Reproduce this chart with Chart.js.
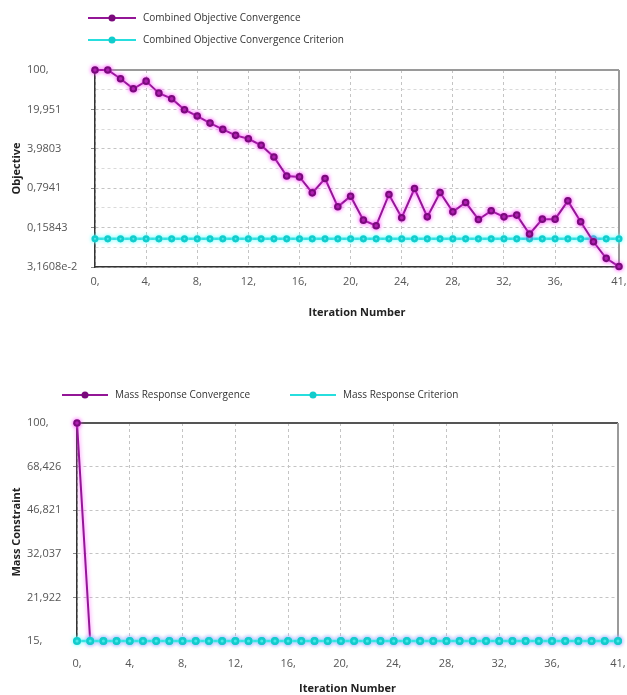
<!DOCTYPE html>
<html>
<head>
<meta charset="utf-8">
<script src="https://cdn.jsdelivr.net/npm/chart.js@4.4.1/dist/chart.umd.min.js"></script>
<style>
  html, body { margin: 0; padding: 0; background: #fff; }
  #wrap { position: relative; width: 627px; height: 695px; }
  canvas { position: absolute; left: 0; }
  #objChart { top: 0; }
  #massChart { top: 340px; }
</style>
</head>
<body>
<div id="wrap">
  <canvas id="objChart" width="627" height="340"></canvas>
  <canvas id="massChart" width="627" height="355"></canvas>
</div>
<script>
// Iterations shared by both charts
const iterations = [0, 1, 2, 3, 4, 5, 6, 7, 8, 9, 10, 11, 12, 13, 14, 15, 16, 17, 18, 19, 20,
    21, 22, 23, 24, 25, 26, 27, 28, 29, 30, 31, 32, 33, 34, 35, 36, 37, 38, 39, 40, 41];
const xTickValues = [0, 4, 8, 12, 16, 20, 24, 28, 32, 36, 41];

// Top chart: combined objective (log axis)
const objectiveValues = [100, 100, 70, 46.4, 63.4, 38.8, 30.9, 19.7, 15.2, 11.4, 8.8, 6.9, 6.0, 4.6,
    2.85, 1.31, 1.26, 0.656, 1.18, 0.371, 0.573, 0.215, 0.171, 0.614, 0.237, 0.785, 0.246, 0.667,
    0.302, 0.443, 0.221, 0.315, 0.246, 0.264, 0.122, 0.224, 0.224, 0.473, 0.201, 0.0887, 0.045, 0.0322];
const objectiveCriterion = [0.1, 0.1, 0.1, 0.1, 0.1, 0.1, 0.1, 0.1, 0.1, 0.1, 0.1, 0.1, 0.1, 0.1,
    0.1, 0.1, 0.1, 0.1, 0.1, 0.1, 0.1, 0.1, 0.1, 0.1, 0.1, 0.1, 0.1, 0.1, 0.1, 0.1, 0.1, 0.1, 0.1,
    0.1, 0.1, 0.1, 0.1, 0.1, 0.1, 0.1, 0.1, 0.1];
const objTickValues = [0.031608, 0.15843, 0.7941, 3.9803, 19.951, 100];
const objTickLabels = ['3,1608e-2', '0,15843', '0,7941', '3,9803', '19,951', '100,'];

// Bottom chart: mass constraint (log axis)
const massValues = [100, 15, 15, 15, 15, 15, 15, 15, 15, 15, 15, 15, 15, 15, 15, 15, 15, 15, 15, 15,
    15, 15, 15, 15, 15, 15, 15, 15, 15, 15, 15, 15, 15, 15, 15, 15, 15, 15, 15, 15, 15, 15];
const massCriterion = [15, 15, 15, 15, 15, 15, 15, 15, 15, 15, 15, 15, 15, 15, 15, 15, 15, 15, 15, 15,
    15, 15, 15, 15, 15, 15, 15, 15, 15, 15, 15, 15, 15, 15, 15, 15, 15, 15, 15, 15, 15, 15];
const massTickValues = [15, 21.922, 32.037, 46.821, 68.426, 100];
const massTickLabels = ['15,', '21,922', '32,037', '46,821', '68,426', '100,'];

const FONT = "'Open Sans', 'Noto Sans', sans-serif";
const PURPLE = '#931696';
const PURPLE_PT = '#7a0a7c';
const CYAN = '#27dede';
const CYAN_PT = '#12cccc';

// Legend: short line with a marker in the middle, then the label
const lineLegend = {
    id: 'lineLegend',
    afterDraw(chart, args, opts) {
        const ctx = chart.ctx;
        ctx.save();
        ctx.font = '10px ' + FONT;
        ctx.textBaseline = 'middle';
        chart.data.datasets.forEach((ds, i) => {
            const [x, y] = opts.items[i];
            ctx.strokeStyle = ds.borderColor;
            ctx.lineWidth = 2;
            ctx.beginPath();
            ctx.moveTo(x, y);
            ctx.lineTo(x + opts.lineLen, y);
            ctx.stroke();
            ctx.fillStyle = ds.pointBackgroundColor;
            ctx.beginPath();
            ctx.arc(x + opts.lineLen / 2, y, 3.5, 0, Math.PI * 2);
            ctx.fill();
            ctx.fillStyle = '#333';
            ctx.fillText(ds.label, x + opts.lineLen + 7, y);
        });
        ctx.restore();
    }
};

// Top and right edges of the plot box
const frame = {
    id: 'frame',
    beforeDatasetsDraw(chart, args, opts) {
        const { left, right, top, bottom } = chart.chartArea;
        const ctx = chart.ctx;
        ctx.save();
        ctx.lineWidth = 2;
        ctx.strokeStyle = opts.top;
        ctx.beginPath();
        ctx.moveTo(left, top);
        ctx.lineTo(right, top);
        ctx.stroke();
        ctx.strokeStyle = opts.right;
        ctx.beginPath();
        ctx.moveTo(right, top);
        ctx.lineTo(right, bottom);
        ctx.stroke();
        ctx.restore();
    }
};

// Soft halo around the series lines
const glow = {
    id: 'glow',
    beforeDatasetDraw(chart, args) {
        const ds = chart.data.datasets[args.index];
        chart.ctx.save();
        if (ds.glowColor) {
            chart.ctx.shadowColor = ds.glowColor;
            chart.ctx.shadowBlur = 4;
        }
    },
    afterDatasetDraw(chart) {
        chart.ctx.restore();
    }
};

// labelGap: space from the axis line to the tick labels (invisible tick marks)
function xAxis(height, labelGap, titlePad) {
    return {
        type: 'linear',
        min: 0,
        max: 41,
        afterBuildTicks: s => { s.ticks = xTickValues.map(v => ({ value: v })); },
        afterFit: s => { s.height = height; },
        ticks: {
            callback: v => v + ',',
            color: '#555',
            font: { family: FONT, size: 11 },
            padding: 0,
            maxRotation: 0,
            autoSkip: false
        },
        grid: { color: '#c4c4c4', drawTicks: true, tickLength: labelGap, tickColor: 'rgba(0,0,0,0)' },
        border: { color: '#333', width: 1.5, dash: [3, 3] },
        title: {
            display: true,
            text: 'Iteration Number',
            color: '#222',
            font: { family: FONT, size: 11, weight: 'bold' },
            padding: { top: 0, bottom: titlePad }
        }
    };
}

function yAxis(title, min, max, values, labels, width, withMinor) {
    return {
        type: 'logarithmic',
        min: min,
        max: max,
        afterBuildTicks: s => {
            const t = values.map((v, i) => ({ value: v, major: true, text: labels[i] }));
            if (withMinor) {
                for (let i = 0; i < values.length - 1; i++) {
                    t.push({ value: Math.sqrt(values[i] * values[i + 1]), major: false, text: '' });
                }
                t.sort((a, b) => a.value - b.value);
            }
            s.ticks = t;
        },
        afterFit: s => { s.width = width; },
        ticks: {
            callback: (v, i, ticks) => ticks[i].text,
            color: '#555',
            font: { family: FONT, size: 11 },
            crossAlign: 'far',
            autoSkip: false
        },
        grid: {
            color: c => (c.tick && !c.tick.major) ? '#dadada' : '#c4c4c4',
            tickColor: c => (c.tick && !c.tick.major) ? 'rgba(0,0,0,0)' : '#888',
            tickLength: 4
        },
        border: { color: '#333', width: 1.5, dash: [3, 3] },
        title: {
            display: true,
            text: title,
            color: '#222',
            font: { family: FONT, size: 11, weight: 'bold' },
            padding: { top: -17, bottom: 0 }
        }
    };
}

const common = {
    responsive: false,
    animation: false,
    events: [],
    plugins: { legend: { display: false }, tooltip: { enabled: false } }
};

new Chart(document.getElementById('objChart'), {
    type: 'line',
    data: {
        labels: iterations,
        datasets: [{
            label: 'Combined Objective Convergence',
            data: objectiveValues,
            borderColor: PURPLE,
            borderWidth: 2,
            pointBackgroundColor: PURPLE_PT,
            pointBorderColor: PURPLE_PT,
            pointRadius: 2.8,
            glowColor: 'rgba(255, 60, 255, 0.8)',
            tension: 0,
            clip: false
        }, {
            label: 'Combined Objective Convergence Criterion',
            data: objectiveCriterion,
            borderColor: CYAN,
            borderWidth: 2.5,
            pointBackgroundColor: CYAN_PT,
            pointBorderColor: CYAN_PT,
            pointRadius: 2.3,
            glowColor: 'rgba(120, 255, 255, 0.9)',
            tension: 0,
            clip: false
        }]
    },
    options: {
        ...common,
        layout: { padding: { left: 27, top: 70, right: 8, bottom: 13 } },
        scales: {
            x: xAxis(60, 8, 8),
            y: yAxis('Objective', 0.031608, 100, objTickValues, objTickLabels, 68, true)
        },
        plugins: {
            ...common.plugins,
            lineLegend: { items: [[88, 18], [88, 40]], lineLen: 48 },
            frame: { top: '#9a9a9a', right: '#9a9a9a' }
        }
    },
    plugins: [lineLegend, frame, glow]
});

new Chart(document.getElementById('massChart'), {
    type: 'line',
    data: {
        labels: iterations,
        datasets: [{
            label: 'Mass Response Convergence',
            data: massValues,
            borderColor: PURPLE,
            borderWidth: 2,
            pointBackgroundColor: PURPLE_PT,
            pointBorderColor: PURPLE_PT,
            pointRadius: 2.8,
            glowColor: 'rgba(255, 60, 255, 0.8)',
            tension: 0,
            clip: false,
            order: 1
        }, {
            label: 'Mass Response Criterion',
            data: massCriterion,
            borderColor: CYAN,
            borderWidth: 2.5,
            pointBackgroundColor: CYAN_PT,
            pointBorderColor: CYAN_PT,
            pointRadius: 2.8,
            glowColor: 'rgba(120, 255, 255, 0.9)',
            tension: 0,
            clip: false,
            order: 0
        }]
    },
    options: {
        ...common,
        layout: { padding: { left: 27, top: 83, right: 9, bottom: 0 } },
        scales: {
            x: xAxis(54, 16, 0),
            y: yAxis('Mass Constraint', 15, 100, massTickValues, massTickLabels, 50, false)
        },
        plugins: {
            ...common.plugins,
            lineLegend: { items: [[62, 55], [290, 55]], lineLen: 46 },
            frame: { top: '#555', right: '#9a9a9a' }
        }
    },
    plugins: [lineLegend, frame, glow]
});
</script>
</body>
</html>
